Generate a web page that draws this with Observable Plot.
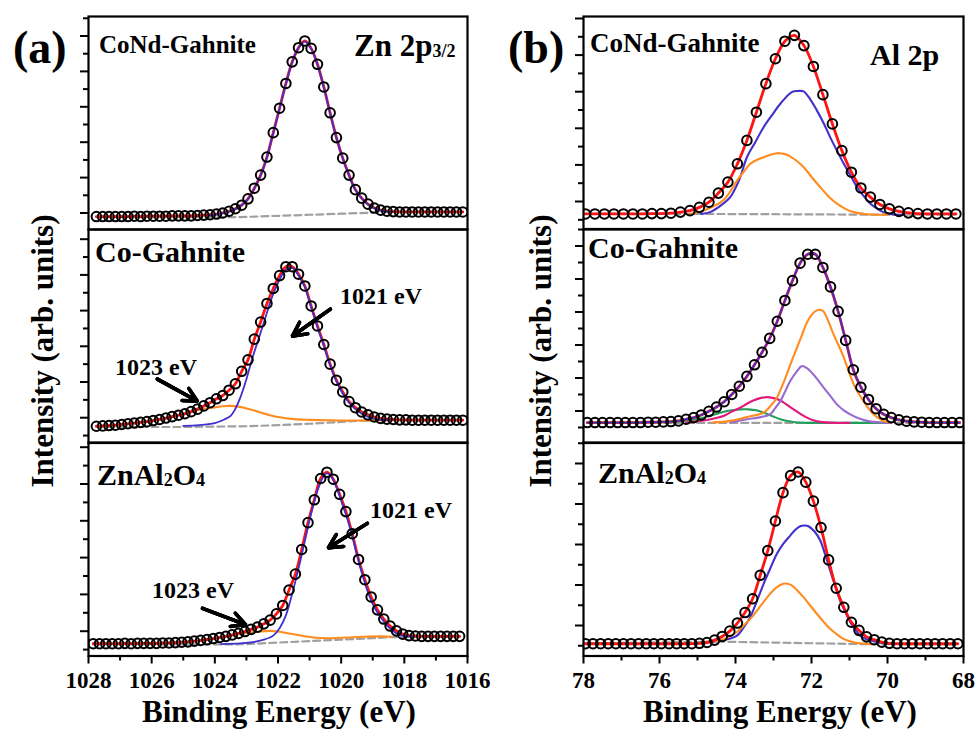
<!DOCTYPE html>
<html><head><meta charset="utf-8">
<script src="https://cdn.jsdelivr.net/npm/d3@7"></script>
<script src="https://cdn.jsdelivr.net/npm/@observablehq/plot@0.6"></script>
<style>
body{margin:0;background:#fff;}
#chart{position:relative;width:976px;height:729px;overflow:hidden;background:#fff;}
#chart svg{position:absolute;}
</style></head><body><div id="chart"></div>
<script>
// ---------------- DATA ----------------
// Zn 2p3/2, CoNd-Gahnite
const znCoNdData = [[1027.75,-0.10],[1027.55,-0.10],[1027.35,-0.10],[1027.15,-0.10],[1026.95,-0.10],[1026.75,-0.10],[1026.55,-0.09],[1026.35,-0.10],[1026.15,-0.09],[1025.95,-0.09],[1025.75,-0.09],[1025.55,-0.09],[1025.35,-0.08],[1025.15,-0.08],[1024.95,-0.08],[1024.75,-0.08],[1024.55,-0.07],[1024.35,-0.06],[1024.15,-0.05],[1023.95,-0.03],[1023.75,0.00],[1023.55,0.05],[1023.35,0.12],[1023.15,0.22],[1022.95,0.40],[1022.75,0.70],[1022.55,1.07],[1022.35,1.58],[1022.15,2.27],[1021.95,2.96],[1021.75,3.66],[1021.55,4.27],[1021.35,4.67],[1021.15,4.86],[1020.95,4.65],[1020.75,4.20],[1020.55,3.56],[1020.35,2.83],[1020.15,2.13],[1019.95,1.55],[1019.75,1.07],[1019.55,0.66],[1019.35,0.42],[1019.15,0.25],[1018.95,0.14],[1018.75,0.08],[1018.55,0.05],[1018.35,0.04],[1018.15,0.03],[1017.95,0.03],[1017.75,0.03],[1017.55,0.03],[1017.35,0.03],[1017.15,0.03],[1016.95,0.03],[1016.75,0.03],[1016.55,0.03],[1016.35,0.03],[1016.15,0.03]];
const znCoNd1021 = [[1024.2,-0.08],[1023.8,-0.02],[1023.5,0.05],[1023.2,0.19],[1022.95,0.39],[1022.75,0.69],[1022.55,1.06],[1022.35,1.57],[1022.15,2.26],[1021.95,2.95],[1021.75,3.65],[1021.55,4.25],[1021.35,4.66],[1021.15,4.84],[1020.95,4.64],[1020.75,4.19],[1020.55,3.55],[1020.35,2.82],[1020.15,2.12],[1019.95,1.54],[1019.75,1.06],[1019.55,0.65],[1019.35,0.41],[1019.15,0.24],[1018.95,0.13],[1018.75,0.07],[1018.4,0.03]];
const znCoNdBase = [[1027.75,-0.12],[1023.6,-0.12],[1023.0,-0.11],[1022.0,-0.08],[1021.0,-0.05],[1020.0,-0.02],[1019.0,0.01],[1018.5,0.03],[1016.15,0.03]];

// Zn 2p3/2, Co-Gahnite
const znCoData = [[1027.75,-0.24],[1027.55,-0.23],[1027.35,-0.22],[1027.15,-0.21],[1026.95,-0.19],[1026.75,-0.17],[1026.55,-0.15],[1026.35,-0.13],[1026.15,-0.11],[1025.95,-0.08],[1025.75,-0.05],[1025.55,-0.01],[1025.35,0.03],[1025.15,0.07],[1024.95,0.11],[1024.75,0.17],[1024.55,0.24],[1024.35,0.33],[1024.15,0.42],[1023.95,0.53],[1023.75,0.62],[1023.55,0.77],[1023.35,0.95],[1023.15,1.30],[1022.95,1.62],[1022.75,2.20],[1022.55,2.68],[1022.35,3.20],[1022.15,3.62],[1021.95,3.98],[1021.75,4.23],[1021.55,4.23],[1021.35,4.02],[1021.15,3.69],[1020.95,3.13],[1020.75,2.57],[1020.55,2.05],[1020.35,1.50],[1020.15,1.05],[1019.95,0.72],[1019.75,0.45],[1019.55,0.28],[1019.35,0.16],[1019.15,0.08],[1018.95,0.02],[1018.75,-0.02],[1018.55,-0.04],[1018.35,-0.05],[1018.15,-0.06],[1017.95,-0.06],[1017.75,-0.07],[1017.55,-0.07],[1017.35,-0.07],[1017.15,-0.07],[1016.95,-0.07],[1016.75,-0.07],[1016.55,-0.07],[1016.35,-0.07],[1016.15,-0.07]];
const znCo1021 = [[1025.0,-0.23],[1024.5,-0.21],[1024.0,-0.15],[1023.7,-0.05],[1023.5,0.05],[1023.35,0.25],[1023.2,0.55],[1023.0,1.08],[1022.8,1.70],[1022.6,2.25],[1022.4,2.80],[1022.2,3.35],[1022.0,3.78],[1021.8,4.10],[1021.65,4.20],[1021.5,4.17],[1021.35,3.98],[1021.15,3.66],[1020.95,3.10],[1020.75,2.54],[1020.55,2.02],[1020.35,1.47],[1020.15,1.02],[1019.95,0.68],[1019.75,0.42],[1019.55,0.24],[1019.35,0.11],[1019.15,0.02],[1018.95,-0.03],[1018.75,-0.06],[1018.5,-0.07]];
const znCo1023 = [[1027.75,-0.24],[1027.0,-0.20],[1026.5,-0.14],[1026.0,-0.09],[1025.5,-0.01],[1025.0,0.10],[1024.5,0.22],[1024.0,0.29],[1023.75,0.32],[1023.5,0.33],[1023.25,0.31],[1023.0,0.26],[1022.75,0.20],[1022.5,0.13],[1022.25,0.07],[1022.0,0.02],[1021.5,-0.04],[1021.0,-0.06],[1020.5,-0.07],[1020.0,-0.08],[1019.5,-0.08],[1019.0,-0.08],[1018.5,-0.07]];
const znCoBase = [[1027.75,-0.26],[1025.0,-0.26],[1023.0,-0.24],[1022.0,-0.21],[1021.0,-0.17],[1020.0,-0.12],[1019.3,-0.08],[1018.6,-0.07],[1016.15,-0.07]];

// Zn 2p3/2, ZnAl2O4
const znZaoData = [[1027.85,-0.34],[1027.65,-0.34],[1027.45,-0.34],[1027.25,-0.34],[1027.05,-0.34],[1026.85,-0.33],[1026.65,-0.34],[1026.45,-0.33],[1026.25,-0.33],[1026.05,-0.33],[1025.85,-0.33],[1025.65,-0.32],[1025.45,-0.32],[1025.25,-0.31],[1025.05,-0.30],[1024.85,-0.29],[1024.65,-0.27],[1024.45,-0.25],[1024.25,-0.23],[1024.05,-0.20],[1023.85,-0.17],[1023.65,-0.14],[1023.45,-0.10],[1023.25,-0.06],[1023.05,-0.01],[1022.85,0.05],[1022.65,0.11],[1022.45,0.20],[1022.25,0.30],[1022.05,0.47],[1021.85,0.70],[1021.65,1.12],[1021.45,1.55],[1021.25,2.22],[1021.05,2.95],[1020.85,3.57],[1020.65,4.15],[1020.45,4.32],[1020.25,4.13],[1020.05,3.72],[1019.85,3.25],[1019.65,2.65],[1019.45,1.95],[1019.25,1.40],[1019.05,0.93],[1018.85,0.58],[1018.65,0.33],[1018.45,0.14],[1018.25,0.01],[1018.05,-0.08],[1017.85,-0.12],[1017.65,-0.13],[1017.45,-0.14],[1017.25,-0.14],[1017.05,-0.14],[1016.85,-0.14],[1016.65,-0.14],[1016.45,-0.14],[1016.25,-0.14]];
const znZao1021 = [[1023.8,-0.35],[1023.2,-0.33],[1022.8,-0.30],[1022.45,-0.23],[1022.15,-0.12],[1021.95,0.08],[1021.75,0.43],[1021.55,1.02],[1021.35,1.70],[1021.15,2.45],[1020.95,3.20],[1020.75,3.82],[1020.55,4.22],[1020.45,4.29],[1020.35,4.25],[1020.15,3.92],[1019.95,3.42],[1019.75,2.90],[1019.55,2.25],[1019.35,1.60],[1019.15,1.05],[1018.95,0.65],[1018.75,0.38],[1018.55,0.16],[1018.35,0.00],[1018.15,-0.10],[1017.95,-0.14],[1017.7,-0.15]];
const znZao1023 = [[1027.85,-0.34],[1025.5,-0.32],[1024.5,-0.26],[1024.0,-0.20],[1023.5,-0.12],[1023.0,-0.05],[1022.6,-0.01],[1022.25,0.01],[1022.0,-0.01],[1021.6,-0.07],[1021.2,-0.13],[1020.8,-0.18],[1020.3,-0.19],[1019.8,-0.17],[1019.3,-0.15],[1018.7,-0.14],[1018.4,-0.15]];
const znZaoBase = [[1027.85,-0.36],[1023.5,-0.36],[1023.0,-0.35],[1022.0,-0.31],[1021.0,-0.27],[1020.0,-0.23],[1019.0,-0.19],[1018.4,-0.16],[1016.25,-0.15]];

// Al 2p, CoNd-Gahnite
const alCoNdData = [[77.95,-0.34],[77.70,-0.34],[77.45,-0.34],[77.20,-0.34],[76.95,-0.34],[76.70,-0.34],[76.45,-0.34],[76.20,-0.33],[75.95,-0.33],[75.70,-0.32],[75.45,-0.29],[75.20,-0.25],[74.95,-0.16],[74.70,-0.02],[74.45,0.23],[74.20,0.53],[73.95,1.03],[73.70,1.67],[73.45,2.44],[73.20,3.22],[72.95,3.90],[72.70,4.38],[72.45,4.54],[72.20,4.26],[71.95,3.69],[71.70,2.92],[71.45,2.12],[71.20,1.39],[70.95,0.80],[70.70,0.37],[70.45,0.12],[70.20,-0.08],[69.95,-0.20],[69.70,-0.27],[69.45,-0.31],[69.20,-0.33],[68.95,-0.34],[68.70,-0.34],[68.45,-0.34],[68.20,-0.34]];
const alCoNdMain = [[74.9,-0.34],[74.67,-0.29],[74.4,-0.12],[74.14,0.12],[73.9,0.60],[73.7,1.21],[73.48,1.62],[73.26,2.03],[73.04,2.36],[72.82,2.67],[72.52,2.99],[72.35,3.02],[72.21,3.01],[72.05,2.82],[71.86,2.49],[71.68,2.14],[71.51,1.76],[71.33,1.39],[71.15,1.03],[70.97,0.70],[70.80,0.39],[70.62,0.14],[70.45,-0.06],[70.28,-0.19],[70.11,-0.29],[69.9,-0.35],[69.6,-0.37]];
const alCoNdSecond = [[75.2,-0.34],[74.84,-0.25],[74.58,-0.13],[74.32,0.03],[74.14,0.27],[73.96,0.57],[73.78,0.82],[73.61,1.03],[73.43,1.14],[73.26,1.21],[73.08,1.28],[72.91,1.32],[72.78,1.31],[72.65,1.28],[72.43,1.14],[72.21,0.94],[71.99,0.66],[71.77,0.39],[71.55,0.14],[71.33,-0.06],[71.11,-0.20],[70.89,-0.29],[70.6,-0.34],[70.28,-0.36],[70.0,-0.36]];
const alCoNdBase = [[77.95,-0.34],[74.7,-0.34],[70.3,-0.36],[68.2,-0.36]];

// Al 2p, Co-Gahnite
const alCoData = [[77.90,-0.35],[77.70,-0.35],[77.50,-0.35],[77.30,-0.35],[77.10,-0.35],[76.90,-0.35],[76.70,-0.35],[76.50,-0.35],[76.30,-0.34],[76.10,-0.34],[75.90,-0.33],[75.70,-0.32],[75.50,-0.30],[75.30,-0.25],[75.10,-0.20],[74.90,-0.12],[74.70,-0.01],[74.50,0.12],[74.30,0.28],[74.10,0.50],[73.90,0.75],[73.70,1.05],[73.50,1.40],[73.30,1.78],[73.10,2.20],[72.90,2.72],[72.70,3.35],[72.50,3.95],[72.30,4.48],[72.10,4.75],[71.90,4.75],[71.70,4.35],[71.50,3.76],[71.30,3.02],[71.10,2.14],[70.90,1.25],[70.70,0.72],[70.50,0.35],[70.30,0.07],[70.10,-0.10],[69.90,-0.20],[69.70,-0.27],[69.50,-0.31],[69.30,-0.33],[69.10,-0.34],[68.90,-0.35],[68.70,-0.35],[68.50,-0.35],[68.30,-0.35],[68.10,-0.35]];
const alCoOrange = [[74.6,-0.35],[74.14,-0.30],[73.7,-0.18],[73.26,-0.05],[73.08,0.15],[72.91,0.40],[72.78,0.74],[72.65,1.11],[72.52,1.52],[72.38,1.92],[72.25,2.31],[72.12,2.68],[71.99,2.92],[71.86,3.05],[71.75,3.06],[71.68,3.01],[71.55,2.70],[71.42,2.32],[71.28,1.97],[71.15,1.62],[71.02,1.20],[70.89,0.81],[70.76,0.53],[70.63,0.30],[70.5,0.08],[70.37,-0.10],[70.23,-0.22],[70.10,-0.30],[69.9,-0.35]];
const alCoPurple = [[74.14,-0.35],[73.7,-0.25],[73.4,-0.20],[73.09,-0.10],[72.96,0.08],[72.82,0.30],[72.69,0.60],[72.56,0.91],[72.40,1.18],[72.25,1.36],[72.12,1.30],[71.99,1.16],[71.84,0.95],[71.68,0.71],[71.50,0.45],[71.33,0.20],[71.15,0.02],[70.98,-0.10],[70.76,-0.22],[70.54,-0.30],[70.19,-0.35],[69.9,-0.36]];
const alCoMagenta = [[75.3,-0.35],[74.93,-0.30],[74.62,-0.24],[74.32,-0.15],[74.10,-0.02],[73.88,0.10],[73.70,0.22],[73.53,0.32],[73.35,0.39],[73.17,0.42],[73.00,0.39],[72.82,0.32],[72.65,0.19],[72.47,0.05],[72.30,-0.08],[72.12,-0.20],[71.95,-0.28],[71.77,-0.33],[71.4,-0.36],[71.0,-0.36]];
const alCoGreen = [[75.7,-0.35],[75.46,-0.31],[75.2,-0.28],[74.93,-0.23],[74.66,-0.14],[74.40,-0.05],[74.22,0.00],[74.05,0.03],[73.85,0.05],[73.66,0.05],[73.46,0.02],[73.26,-0.05],[73.04,-0.15],[72.82,-0.25],[72.60,-0.31],[72.38,-0.35],[72.0,-0.36],[71.0,-0.36],[70.0,-0.36]];
const alCoBase = [[77.90,-0.36],[68.10,-0.36]];

// Al 2p, ZnAl2O4
const alZaoData = [[77.95,-0.45],[77.75,-0.45],[77.55,-0.45],[77.35,-0.45],[77.15,-0.45],[76.95,-0.45],[76.75,-0.45],[76.55,-0.45],[76.35,-0.45],[76.15,-0.45],[75.95,-0.45],[75.75,-0.45],[75.55,-0.45],[75.35,-0.45],[75.15,-0.45],[74.95,-0.44],[74.75,-0.42],[74.55,-0.36],[74.35,-0.27],[74.15,-0.14],[73.95,0.06],[73.75,0.32],[73.55,0.66],[73.35,1.24],[73.15,1.85],[72.95,2.58],[72.75,3.28],[72.55,3.70],[72.35,3.79],[72.15,3.54],[71.95,3.07],[71.75,2.42],[71.55,1.62],[71.35,0.92],[71.15,0.45],[70.95,0.08],[70.75,-0.12],[70.55,-0.28],[70.35,-0.35],[70.15,-0.41],[69.95,-0.44],[69.75,-0.45],[69.55,-0.45],[69.35,-0.45],[69.15,-0.45],[68.95,-0.45],[68.75,-0.45],[68.55,-0.45],[68.35,-0.45],[68.15,-0.45]];
const alZaoMain = [[74.8,-0.42],[74.36,-0.37],[74.16,-0.33],[73.96,-0.25],[73.78,-0.04],[73.61,0.21],[73.43,0.62],[73.26,1.03],[73.08,1.42],[72.91,1.77],[72.74,2.02],[72.56,2.22],[72.43,2.36],[72.30,2.45],[72.17,2.47],[72.08,2.45],[71.92,2.32],[71.77,2.10],[71.64,1.75],[71.51,1.36],[71.38,0.98],[71.25,0.62],[71.11,0.33],[70.98,0.08],[70.85,-0.10],[70.72,-0.25],[70.58,-0.33],[70.45,-0.37],[70.1,-0.44],[69.8,-0.46]];
const alZaoSecond = [[74.8,-0.40],[74.40,-0.37],[74.18,-0.28],[73.96,-0.16],[73.75,0.03],[73.53,0.25],[73.31,0.52],[73.09,0.78],[72.92,0.94],[72.74,1.03],[72.63,1.03],[72.52,0.99],[72.37,0.86],[72.21,0.70],[72.04,0.50],[71.86,0.29],[71.68,0.09],[71.51,-0.08],[71.33,-0.22],[71.16,-0.33],[70.94,-0.40],[70.72,-0.44],[70.4,-0.46]];
const alZaoBase = [[77.95,-0.44],[74.4,-0.40],[72.5,-0.43],[70.6,-0.46],[68.15,-0.46]];

// annotation arrows (energy, intensity)
const znCoArrows = [{x1:1025.82,y1:1.08,x2:1024.56,y2:0.47},{x1:1020.34,y1:3.04,x2:1021.54,y2:2.29}];
const znZaoArrows = [{x1:1024.39,y1:0.62,x2:1023.03,y2:0.18},{x1:1019.17,y1:2.93,x2:1020.40,y2:2.27}];

// tick values
const znTicksMajor = [1028,1026,1024,1022,1020,1018,1016];
const znTicksMinor = [1027,1025,1023,1021,1019,1017];
const alTicksMajor = [78,76,74,72,70,68];
const alTicksMinor = [77,75,73,71,69];
const yTicksMajor = [0,1,2,3,4,5];
const yTicksMinor = [-0.5,0.5,1.5,2.5,3.5,4.5,5.5];

// ---------------- DRAWING ----------------
const chart = document.getElementById("chart");
const X = d => d[0], Y = d => d[1];
const C = {fit:"#ff1414", main:"#4030cc", second:"#ff8c1f", purple:"#9a6ad0", magenta:"#e3187c", green:"#21a05c", base:"#a0a0a0"};
const FONT = "'Liberation Serif','Times New Roman',serif";

function panel(cfg) {
  const mL = 30, mR = 30, mT = 2, mB = cfg.bottom ? 42 : 2;
  const w = cfg.fr - cfg.fl, h = cfg.fb - cfg.ft;
  const inRange = t => t >= Math.min(...cfg.yDomain) && t <= Math.max(...cfg.yDomain);
  const marks = [
    Plot.line(cfg.base, {x: X, y: Y, stroke: C.base, strokeWidth: 2.2, strokeDasharray: "7,4", clip: true}),
    ...cfg.comps.map(c => Plot.line(c.data, {x: X, y: Y, stroke: c.color, strokeWidth: 2.1, curve: "catmull-rom", clip: true})),
    Plot.line(cfg.data, {x: X, y: Y, stroke: C.fit, strokeWidth: 2.8, curve: "catmull-rom", clip: true}),
    ...(cfg.over || []).map(c => Plot.line(c.data, {x: X, y: Y, stroke: c.color, strokeWidth: 1.8, curve: "catmull-rom", clip: true})),
    Plot.dot(cfg.data, {x: X, y: Y, r: 4.8, stroke: "black", strokeWidth: 2, fill: "none", clip: true}),
    Plot.axisY({ticks: yTicksMajor.filter(inRange), tickSize: 8, tickFormat: () => "", strokeWidth: 2}),
    Plot.axisY({ticks: yTicksMinor.filter(inRange), tickSize: 5, tickFormat: () => "", strokeWidth: 2}),
    Plot.frame({stroke: "black", strokeWidth: 2.2})
  ];
  if (cfg.arrows) {
    for (const hl of [12, 9, 6, 3]) {
      marks.push(Plot.arrow(cfg.arrows, {x1: "x1", y1: "y1", x2: "x2", y2: "y2", stroke: "black", strokeWidth: 3.5, headLength: hl, headAngle: 55}));
    }
  }
  if (cfg.bottom) {
    marks.push(Plot.axisX({ticks: cfg.xMajor, tickSize: 8, tickPadding: 8, tickFormat: d3.format("d"), strokeWidth: 2}));
    marks.push(Plot.axisX({ticks: cfg.xMinor, tickSize: 5, tickFormat: () => "", strokeWidth: 2}));
  }
  const svg = Plot.plot({
    width: w + mL + mR, height: h + mT + mB,
    marginLeft: mL, marginRight: mR, marginTop: mT, marginBottom: mB,
    x: {domain: cfg.xDomain, label: null, axis: cfg.bottom ? undefined : null},
    y: {domain: cfg.yDomain, label: null},
    style: {fontFamily: FONT, fontSize: "23px", fontWeight: "bold", background: "transparent", overflow: "visible", color: "black"},
    marks
  });
  svg.style.left = (cfg.fl - mL) + "px";
  svg.style.top = (cfg.ft - mT) + "px";
  svg.style.maxWidth = "none";
  chart.appendChild(svg);
}

const LF = [88, 467], RF = [583.3, 963.3];
const rows = [[15.5, 228.5], [228.5, 442], [442, 655.5]];
const ydom = (p0, s, r) => [(p0 - r[1]) / s, (p0 - r[0]) / s];

panel({fl: LF[0], fr: LF[1], ft: rows[0][0], fb: rows[0][1], xDomain: [1028, 1016], yDomain: ydom(212, 35.4, rows[0]),
  data: znCoNdData, base: znCoNdBase, comps: [], over: [{data: znCoNd1021, color: C.main}]});
panel({fl: LF[0], fr: LF[1], ft: rows[1][0], fb: rows[1][1], xDomain: [1028, 1016], yDomain: ydom(416.7, 35.7, rows[1]),
  data: znCoData, base: znCoBase, comps: [{data: znCo1023, color: C.second}], over: [{data: znCo1021, color: C.main}], arrows: znCoArrows});
panel({fl: LF[0], fr: LF[1], ft: rows[2][0], fb: rows[2][1], xDomain: [1028, 1016], yDomain: ydom(630.7, 36.8, rows[2]),
  data: znZaoData, base: znZaoBase, comps: [{data: znZao1023, color: C.second}], over: [{data: znZao1021, color: C.main}], arrows: znZaoArrows,
  bottom: true, xMajor: znTicksMajor, xMinor: znTicksMinor});

panel({fl: RF[0], fr: RF[1], ft: 16, fb: rows[0][1], xDomain: [78, 68], yDomain: ydom(201, 36.6, [16, rows[0][1]]),
  data: alCoNdData, base: alCoNdBase, comps: [{data: alCoNdMain, color: C.main}, {data: alCoNdSecond, color: C.second}]});
panel({fl: RF[0], fr: RF[1], ft: rows[1][0], fb: rows[1][1], xDomain: [78, 68], yDomain: ydom(410, 33, rows[1]),
  data: alCoData, base: alCoBase, comps: [{data: alCoGreen, color: C.green}, {data: alCoMagenta, color: C.magenta}, {data: alCoPurple, color: C.purple}, {data: alCoOrange, color: C.second}],
  over: [{data: alCoData, color: C.main}]});
panel({fl: RF[0], fr: RF[1], ft: rows[2][0], fb: rows[2][1], xDomain: [78, 68], yDomain: ydom(625, 40.5, rows[2]),
  data: alZaoData, base: alZaoBase, comps: [{data: alZaoMain, color: C.main}, {data: alZaoSecond, color: C.second}],
  bottom: true, xMajor: alTicksMajor, xMinor: alTicksMinor});

// ---------------- TEXT ----------------
const ov = d3.select(chart).append("svg").attr("width", 976).attr("height", 729)
  .style("left", "0px").style("top", "0px")
  .attr("font-family", FONT).attr("font-weight", "bold").attr("fill", "black");
function txt(x, y, size, segs, opt = {}) {
  const t = ov.append("text").attr("x", x).attr("y", y).attr("font-size", size)
    .attr("text-anchor", opt.anchor || "start");
  if (opt.rotate) t.attr("transform", `rotate(${opt.rotate},${x},${y})`);
  let prevDy = 0;
  for (const s of segs) {
    const sp = t.append("tspan").text(s.t);
    if (s.size) sp.attr("font-size", s.size);
    const dy = (s.dy || 0) - prevDy;
    if (dy) sp.attr("dy", dy);
    prevDy = s.dy || 0;
  }
}
txt(13, 63, 46, [{t: "(a)"}]);
txt(508, 63, 46, [{t: "(b)"}]);
txt(99, 53, 25, [{t: "CoNd-Gahnite"}]);
txt(354, 56, 31, [{t: "Zn 2p"}, {t: "3/2", size: 18, dy: 1}]);
txt(590, 52, 27, [{t: "CoNd-Gahnite"}]);
txt(870, 65, 30, [{t: "Al 2p"}]);
txt(95, 262, 30, [{t: "Co-Gahnite"}]);
txt(588, 258, 30, [{t: "Co-Gahnite"}]);
txt(97, 485, 30, [{t: "ZnAl"}, {t: "2", size: 18, dy: 1}, {t: "O"}, {t: "4", size: 18, dy: 1}]);
txt(598, 483, 30, [{t: "ZnAl"}, {t: "2", size: 18, dy: 1}, {t: "O"}, {t: "4", size: 18, dy: 1}]);
txt(340, 304, 24, [{t: "1021 eV"}]);
txt(115, 375, 24, [{t: "1023 eV"}]);
txt(370, 518, 24, [{t: "1021 eV"}]);
txt(152, 598, 24, [{t: "1023 eV"}]);
txt(279, 722, 31, [{t: "Binding Energy (eV)"}], {anchor: "middle"});
txt(780, 722, 31, [{t: "Binding Energy (eV)"}], {anchor: "middle"});
txt(53, 351, 31, [{t: "Intensity (arb. units)"}], {anchor: "middle", rotate: -90});
txt(551, 351, 31, [{t: "Intensity (arb. units)"}], {anchor: "middle", rotate: -90});
</script></body></html>
